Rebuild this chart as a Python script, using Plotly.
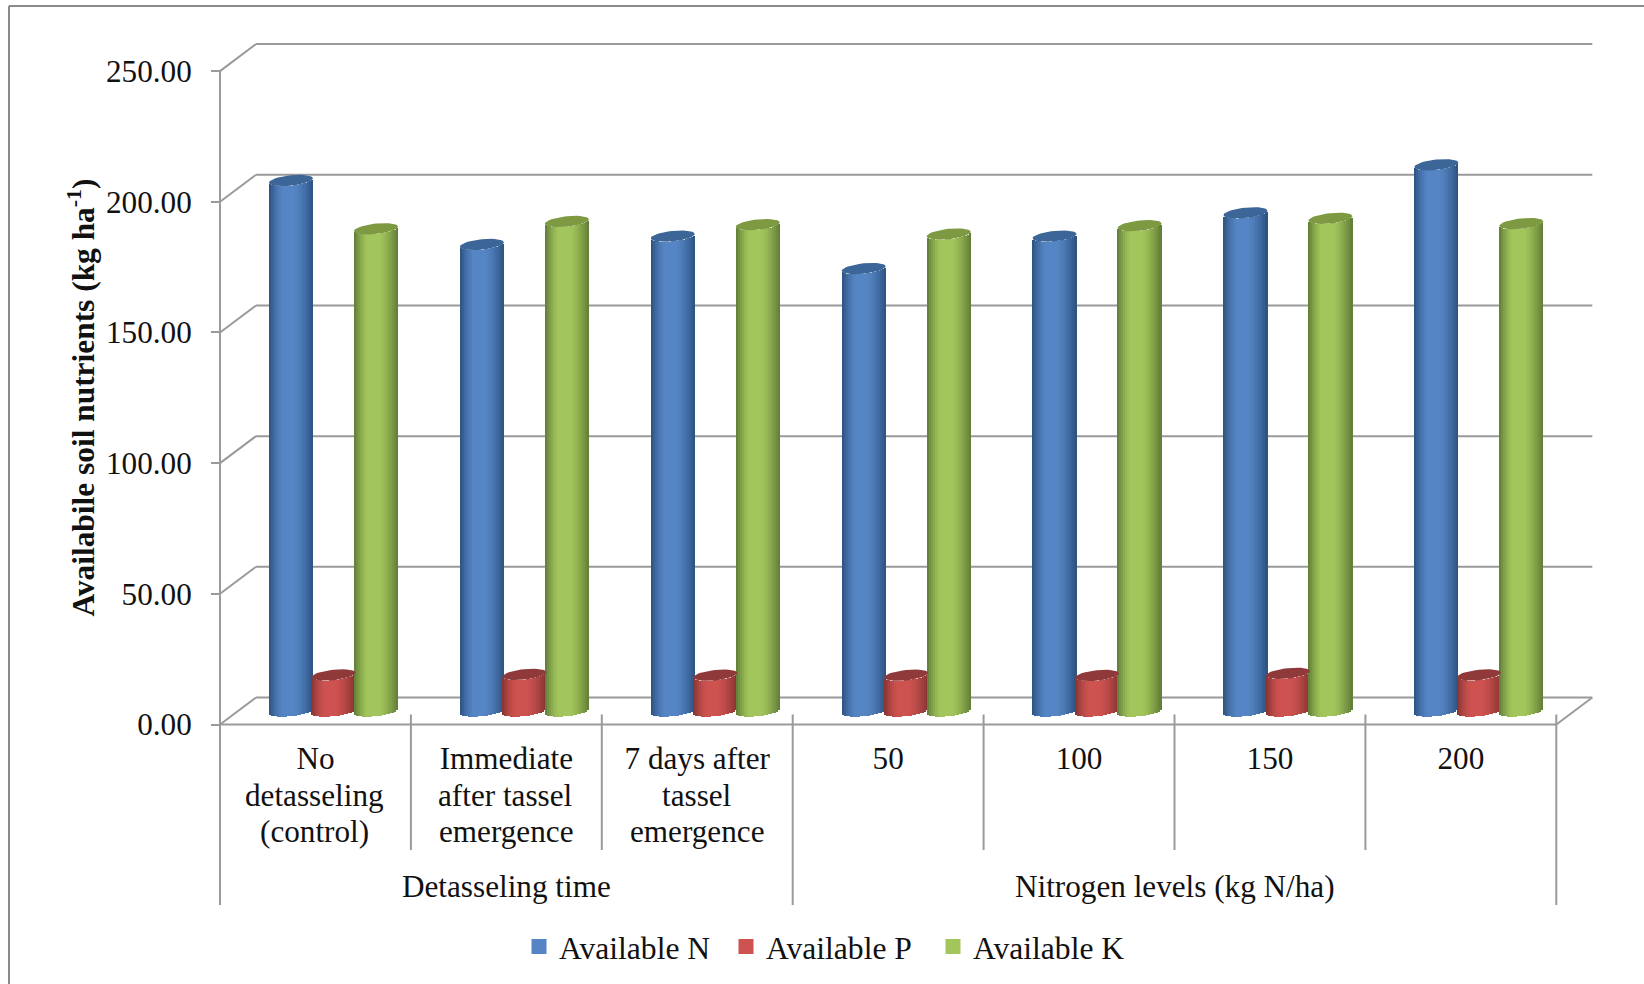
import math
import plotly.graph_objects as go

category_line1 = ["No", "Immediate", "7 days after", "50", "100", "150", "200"]
category_line2 = ["detasseling", "after tassel", "tassel", "", "", "", ""]
category_line3 = ["(control)", "emergence", "emergence", "", "", "", ""]
groups = ["Detasseling time", "Nitrogen levels (kg N/ha)"]
group_spans = [(0, 3), (3, 7)]
available_n = [203.0, 178.5, 181.7, 169.3, 181.7, 190.6, 209.0]
available_p = [13.8, 14.0, 13.7, 13.7, 13.6, 14.4, 13.8]
available_k = [184.5, 187.3, 186.1, 182.5, 185.7, 188.5, 186.5]
y_ticks = [0, 50, 100, 150, 200, 250]
y_labels = ["0.00", "50.00", "100.00", "150.00", "200.00", "250.00"]

W, H = 1644, 984
X0, CAT = 220.0, 190.9       # front axis x, pixels per category
Y0, UNIT = 724.5, 2.6135     # front y=0, pixels per unit
DX, DY = 36 / CAT, 27 / UNIT # depth of the 3-D box in data units
FONT = "Liberation Serif"
FS = 31.2
GRID = "#9a9a9a"
TEXT = "#111111"

series = [
    ("Available N", available_n, "#5585c4", "#2c5180", "#3b6697"),
    ("Available P", available_p, "#cd5250", "#853331", "#90393a"),
    ("Available K", available_k, "#a3c65c", "#5f7a36", "#7d9a42"),
]
STEP, BW = 42.5 / CAT, 44 / CAT
NS = 22
B_PX, TILT_PX = 5.2, 2.2

def mix(a, b, f):
    ca = [int(a[i:i + 2], 16) for i in (1, 3, 5)]
    cb = [int(b[i:i + 2], 16) for i in (1, 3, 5)]
    return "rgb(%d,%d,%d)" % tuple(round(p + (q - p) * f) for p, q in zip(ca, cb))

def shade(t):
    if t < -0.35:
        return ((-0.35 - t) / 0.65) ** 1.5
    if t > 0.1:
        return ((t - 0.1) / 0.9) ** 1.5
    return 0.0

fig = go.Figure()
for k, (name, vals, main, dark, cap) in enumerate(series):
    for j in range(NS):
        t = -1 + (j + 0.5) * 2 / NS
        front = (-B_PX * math.sqrt(1 - t * t) + TILT_PX * t) / UNIT
        xs = [i + 0.5 + DX / 2 + (k - 1) * STEP + t * BW / 2 for i in range(len(vals))]
        fig.add_trace(go.Bar(
            x=xs, y=vals, base=[DY / 2 + front] * len(vals), width=BW / NS * 1.08,
            marker=dict(color=mix(main, dark, shade(t)), line=dict(width=0)),
            showlegend=False, hoverinfo="skip"))
    # top cap of every cylinder
    ex, ey = [], []
    for i, v in enumerate(vals):
        cx = i + 0.5 + DX / 2 + (k - 1) * STEP
        cy = v + DY / 2
        for a in range(41):
            ang = 2 * math.pi * a / 40
            c, s = math.cos(ang), math.sin(ang)
            ex.append(cx + c * BW / 2)
            ey.append(cy + (B_PX * s + TILT_PX * c) / UNIT)
        ex.append(None)
        ey.append(None)
    fig.add_trace(go.Scatter(x=ex, y=ey, mode="lines", fill="toself", fillcolor=cap,
                             line=dict(width=0, color=cap), showlegend=False, hoverinfo="skip"))
# legend entries
for name, vals, main, dark, cap in series:
    fig.add_trace(go.Scatter(x=[None], y=[None], mode="markers", name=name,
                             marker=dict(symbol="square", size=15, color=main)))

shapes = []
def seg(x0, y0, x1, y1, color=GRID, w=2):
    shapes.append(dict(type="line", x0=x0, y0=y0, x1=x1, y1=y1, xref="x", yref="y",
                       layer="below", line=dict(color=color, width=w)))
n = len(category_line1)
for v in y_ticks:
    seg(0, v, DX, v + DY)
    seg(DX, v + DY, n + DX, v + DY)
seg(0, 0, n, 0)
seg(n, 0, n + DX, DY)
TOP = 10 / UNIT
MID = -(850 - Y0) / UNIT
LOW = -(905 - Y0) / UNIT
seg(0, 250, 0, LOW)
for i in range(1, n + 1):
    seg(i, TOP, i, LOW if i in (3, 7) else MID)
# outer frame of the picture
px = lambda p: (p - X0) / CAT
py = lambda p: (Y0 - p) / UNIT
seg(px(9), py(6), px(W + 5), py(6), "#8a8a8a", 2)
seg(px(9), py(6), px(9), py(H + 5), "#8a8a8a", 2)

annotations = [
    dict(x=(a + b) / 2, y=py(886), text=g, showarrow=False, xanchor="center", yanchor="middle",
         font=dict(family=FONT, size=FS, color=TEXT))
    for g, (a, b) in zip(groups, group_spans)
]
for lines, ypx in ((category_line2, 795), (category_line3, 831.5)):
    for i, txt in enumerate(lines):
        if txt:
            annotations.append(dict(x=i + 0.5 - 0.003, y=py(ypx), text=txt, showarrow=False,
                                    xanchor="center", yanchor="middle",
                                    font=dict(family=FONT, size=FS, color=TEXT)))
annotations.append(dict(x=px(80), y=py(397.5), text="Availabile soil nutrients (kg ha<sup>-1</sup>)",
                        textangle=-90, showarrow=False, xanchor="center", yanchor="middle",
                        font=dict(family=FONT, size=31.4, color=TEXT, weight="bold")))

fig.update_layout(
    width=W, height=H, margin=dict(l=0, r=0, t=0, b=0, pad=0, autoexpand=False),
    paper_bgcolor="white", plot_bgcolor="white", barmode="overlay", bargap=0,
    shapes=shapes, annotations=annotations, showlegend=True,
    legend=dict(orientation="h", x=(534 - 7 - 8) / W, xanchor="left", y=(H - 947) / H, yanchor="middle",
                bgcolor="rgba(0,0,0,0)", font=dict(family=FONT, size=31.6, color=TEXT),
                entrywidth=162, entrywidthmode="pixels", itemsizing="trace"),
    xaxis=dict(range=[px(0), px(W)], domain=[0, 1], anchor="free", position=(H - Y0) / H,
               tickmode="array", tickvals=[i + 0.5 for i in range(n)], ticktext=category_line1,
               ticks="", showgrid=False, zeroline=False, showline=False, tickangle=0,
               ticklabelstandoff=12, tickfont=dict(family=FONT, size=FS, color=TEXT)),
    yaxis=dict(range=[py(H), py(0)], domain=[0, 1], anchor="free", position=X0 / W,
               tickmode="array", tickvals=y_ticks, ticktext=y_labels,
               ticks="outside", ticklen=9, tickwidth=2, tickcolor=GRID, ticklabelstandoff=13,
               showgrid=False, zeroline=False, showline=False,
               tickfont=dict(family=FONT, size=FS, color=TEXT)),
)
fig.write_html("out.html", config={"displayModeBar": False},
               post_script="document.body.style.margin='0';document.body.style.overflow='hidden';")
